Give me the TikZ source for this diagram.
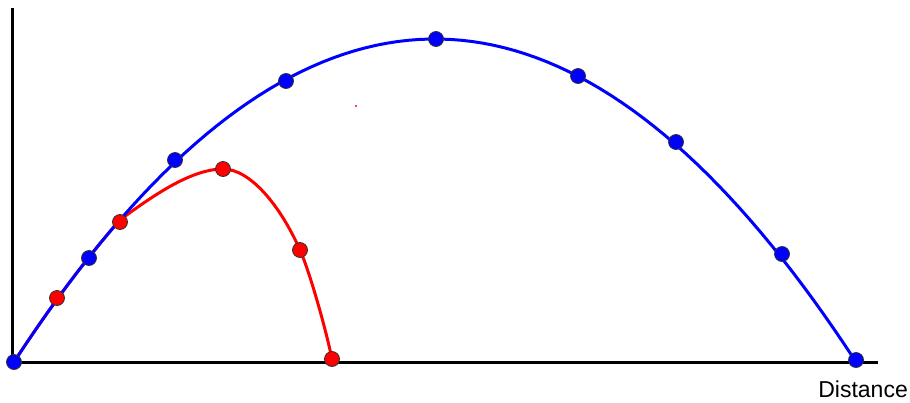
\documentclass[tikz,border=0pt]{standalone}
\usepackage{fontspec}
\setmainfont{Liberation Sans}
\begin{document}
\begin{tikzpicture}[x=1pt,y=-1pt,
  axis/.style={line width=3pt,black},
  traj/.style={line width=3pt},
  dotb/.style={circle,fill=blue,draw=black!80,line width=0.8pt,minimum size=15pt,inner sep=0pt},
  dotr/.style={circle,fill=red,draw=black!80,line width=0.8pt,minimum size=15pt,inner sep=0pt}]
\useasboundingbox (0,0) rectangle (910,402);
% axes
\coordinate (O) at (12,362);
\coordinate (Ytop) at (12,8);
\coordinate (Xend) at (878,362);
\draw[axis] (Ytop) -- (O) -- (Xend);
\node[anchor=base east,inner sep=0pt,font=\fontsize{23}{26}\selectfont] (lab) at (908,397) {Distance};
% trajectories
\draw[traj,red,line join=round] plot[domain=14:120,samples=20] (\x,{362-323*(1-((\x-435)/421)^2)})
  .. controls (150,198) and (190,169) .. (223,169)
  .. controls (250,169) and (280,205) .. (300,250)
  .. controls (310,272.5) and (326,330) .. (332,359);
\draw[traj,blue] plot[domain=14:856,samples=80] (\x,{362-323*(1-((\x-435)/421)^2)});
% stray dot
\fill[red] (356,106) circle (1.2pt);
% dots
\foreach \p/\n in {{(57,298)}/r1,{(120,222)}/r2,{(223,169)}/r3,{(300,250)}/r4,{(332,359)}/r5}
  \node[dotr] (\n) at \p {};
\foreach \p/\n in {{(14,362)}/b0,{(89,258)}/b1,{(175,160)}/b2,{(286,81)}/b3,{(436,39)}/b4,{(578,76)}/b5,{(676,142)}/b6,{(782,254)}/b7,{(856,360)}/b8}
  \node[dotb] (\n) at \p {};
\end{tikzpicture}
\end{document}
